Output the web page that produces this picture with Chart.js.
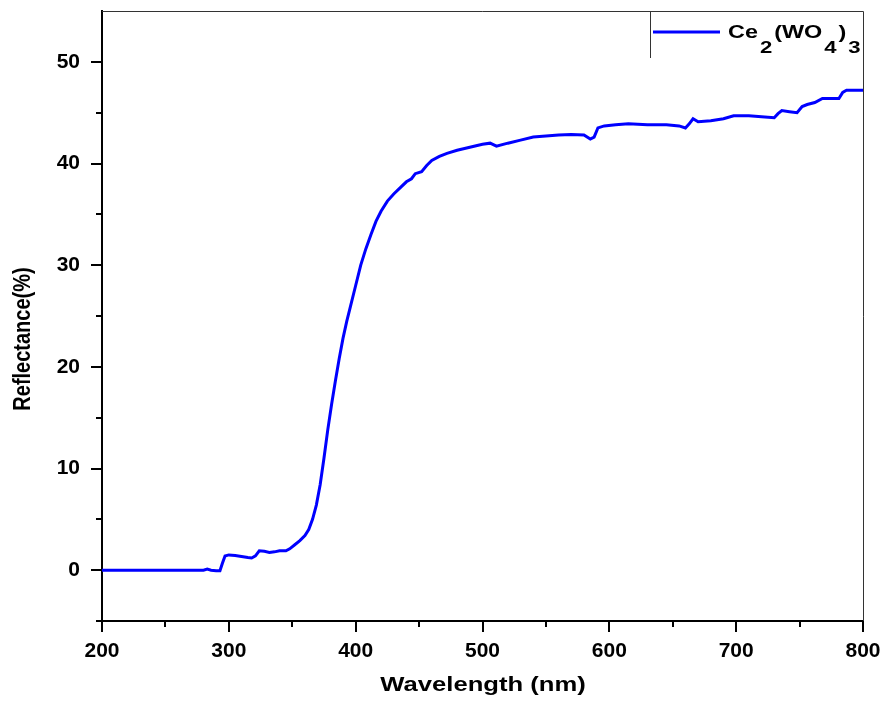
<!DOCTYPE html>
<html>
<head>
<meta charset="utf-8">
<script src="https://cdn.jsdelivr.net/npm/chart.js@4.4.1/dist/chart.umd.min.js"></script>
<style>
  html, body { margin: 0; padding: 0; background: #fff; }
  #wrap { width: 885px; height: 703px; }
</style>
</head>
<body>
<div id="wrap"><canvas id="chart" width="885" height="703"></canvas></div>
<script>
// --- Data ---
const wavelength = [200, 210, 220, 230, 240, 250, 260, 270, 280, 283, 286, 290, 293, 295, 297, 300,
  305, 310, 315, 318, 321, 324, 328, 332, 336, 340, 345, 348, 352, 356, 360, 363, 366, 369, 372,
  375, 378, 381, 384, 387, 390, 393, 396, 400, 404, 408, 412, 416, 420, 425, 430, 435, 440, 444,
  447, 452, 456, 460, 466, 472, 480, 490, 500, 506, 511, 520, 530, 540, 550, 560, 570, 580, 585,
  588, 591, 596, 605, 615, 630, 645, 655, 660, 663, 666, 670, 680, 690, 698, 710, 720, 730, 733,
  736, 742, 748, 752, 756, 762, 768, 775, 781, 784, 787, 800];
const reflectance = [0, 0, 0, 0, 0, 0, 0, 0, 0, 0.1, 0, -0.05, -0.05, 0.7, 1.4, 1.5,
  1.45, 1.35, 1.25, 1.2, 1.4, 1.9, 1.85, 1.75, 1.8, 1.9, 1.9, 2.1, 2.5, 2.9, 3.4, 4.0, 5.0, 6.4, 8.4,
  11.0, 13.8, 16.3, 18.6, 20.8, 22.8, 24.5, 26.0, 28.0, 30.0, 31.6, 33.0, 34.3, 35.3, 36.3, 37.0, 37.6, 38.2, 38.5,
  39.0, 39.2, 39.8, 40.3, 40.7, 41.0, 41.3, 41.6, 41.9, 42.0, 41.7, 42.0, 42.3, 42.6, 42.7, 42.8, 42.85, 42.8, 42.4,
  42.6, 43.5, 43.7, 43.8, 43.9, 43.8, 43.8, 43.7, 43.5, 43.9, 44.4, 44.1, 44.2, 44.4, 44.7, 44.7, 44.6, 44.5, 44.9,
  45.2, 45.1, 45.0, 45.6, 45.8, 46.0, 46.4, 46.4, 46.4, 47.0, 47.2, 47.2];
const xTicks = [200, 300, 400, 500, 600, 700, 800];
const yTicks = [0, 10, 20, 30, 40, 50];
const legendParts = [['Ce', false], ['2', true], ['(WO', false], ['4', true], [')', false], ['3', true]];

const FONT = '"Liberation Sans", Arial, sans-serif';
const BLUE = '#0000ff';

// text stretched horizontally like in the source figure
const wideText = (ctx, text, x, y, stretch) => {
    ctx.save();
    ctx.translate(x, y);
    ctx.scale(stretch, 1);
    ctx.fillText(text, 0, 0);
    ctx.restore();
    return ctx.measureText(text).width * stretch;
};

// --- Frame, ticks, titles and legend ---
const framePlugin = {
    id: 'frame',
    afterDraw(chart) {
        const { ctx, chartArea: a, scales: { x, y } } = chart;
        ctx.save();
        // top and right borders (thin)
        ctx.strokeStyle = '#333';
        ctx.lineWidth = 1;
        ctx.beginPath();
        ctx.moveTo(a.left, a.top + 0.5);
        ctx.lineTo(a.right + 0.5, a.top + 0.5);
        ctx.lineTo(a.right + 0.5, a.bottom);
        ctx.stroke();

        // tick marks (major + minor)
        ctx.strokeStyle = '#000';
        ctx.lineWidth = 2;
        ctx.beginPath();
        x.ticks.forEach(t => {
            const px = Math.round(x.getPixelForValue(t.value));
            const len = t.value % 100 === 0 ? 11 : 6;
            ctx.moveTo(px, a.bottom);
            ctx.lineTo(px, a.bottom + len);
        });
        y.ticks.forEach(t => {
            if (t.value > 50) return;
            const py = Math.round(y.getPixelForValue(t.value));
            const len = t.value % 10 === 0 ? 11 : 6;
            ctx.moveTo(a.left, py);
            ctx.lineTo(a.left - len, py);
        });
        ctx.stroke();

        // axis titles
        ctx.fillStyle = '#000';
        ctx.font = `bold 21px ${FONT}`;
        ctx.textAlign = 'center';
        ctx.textBaseline = 'alphabetic';
        wideText(ctx, 'Wavelength (nm)', 483, 691, 1.22);

        ctx.save();
        ctx.translate(30, 339);
        ctx.rotate(-Math.PI / 2);
        ctx.font = `bold 20px ${FONT}`;
        // rotated: stretch along screen x means the glyph height
        ctx.scale(1, 1.2);
        ctx.fillText('Reflectance(%)', 0, 0);
        ctx.restore();

        // legend box
        ctx.strokeStyle = '#333';
        ctx.lineWidth = 1;
        ctx.beginPath();
        ctx.moveTo(650.5, a.top);
        ctx.lineTo(650.5, 58);
        ctx.stroke();

        ctx.strokeStyle = BLUE;
        ctx.lineWidth = 3;
        ctx.beginPath();
        ctx.moveTo(653, 32);
        ctx.lineTo(720, 32);
        ctx.stroke();

        let cx = 728;
        ctx.textAlign = 'left';
        legendParts.forEach(([t, sub]) => {
            ctx.font = sub ? `bold 17px ${FONT}` : `bold 18px ${FONT}`;
            cx += wideText(ctx, t, cx, sub ? 53 : 38, 1.3) + 2;
        });
        ctx.restore();
    }
};

new Chart(document.getElementById('chart'), {
    type: 'line',
    data: {
        datasets: [{
            label: 'Ce2(WO4)3',
            data: wavelength.map((w, i) => ({ x: w, y: reflectance[i] })),
            borderColor: BLUE,
            borderWidth: 3,
            pointRadius: 0,
            tension: 0,
            fill: false
        }]
    },
    options: {
        responsive: false,
        animation: false,
        layout: { padding: { top: 11, right: 22, left: 0, bottom: 0 } },
        plugins: { legend: { display: false }, tooltip: { enabled: false } },
        scales: {
            x: {
                type: 'linear',
                min: 200, max: 800,
                afterFit: (s) => { s.height = 82; s.paddingLeft = 0; s.paddingRight = 0; },
                afterBuildTicks: (s) => {
                    s.ticks = [];
                    for (let v = 200; v <= 800; v += 50) s.ticks.push({ value: v });
                },
                grid: { display: false, drawTicks: false },
                border: { display: true, color: '#000', width: 2 },
                ticks: {
                    padding: 18,
                    color: '#000',
                    maxRotation: 0,
                    font: { family: FONT, size: 21, weight: 'bold' },
                    callback: (v) => xTicks.includes(v) ? String(v) : ''
                }
            },
            y: {
                type: 'linear',
                min: -5, max: 55,
                afterFit: (s) => { s.width = 102; s.paddingTop = 0; s.paddingBottom = 0; },
                afterBuildTicks: (s) => {
                    s.ticks = [];
                    for (let v = -5; v <= 55; v += 5) s.ticks.push({ value: v });
                },
                grid: { display: false, drawTicks: false },
                border: { display: true, color: '#000', width: 2 },
                ticks: {
                    padding: 22,
                    color: '#000',
                    font: { family: FONT, size: 21, weight: 'bold' },
                    callback: (v) => yTicks.includes(v) ? String(v) : ''
                }
            }
        }
    },
    plugins: [framePlugin]
});
</script>
</body>
</html>
